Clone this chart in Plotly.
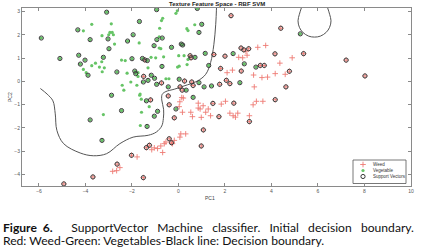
import plotly.graph_objects as go

# ---- data ----
veg_x = [-4.09, -3.73, -2.89, -2.95, -2.85, -3.0, -2.8, -3.29, -2.75, -1.69, -3.73, -3.57, -3.3, -3.4, -3.19,
         -4.09, -3.97, -3.28, -2.45, -2.29, -2.21, -2.05, -1.74, -1.79, -1.31, -2.42, -2.35, -1.65, -1.74,
         -0.11, -0.05, -0.68, -0.73, -0.81, 0.36, 0.41, 0.7, -0.83, -0.83, -0.76, -0.64, -1.18, -0.98, 0.01, 0.24,
         0.41, 0.03, -0.04, 0.37, -0.54, -0.41, -3.23, -1.67, -1.59, -1.64, -1.26, -1.6]
veg_y = [2.17, 2.45, 2.47, 2.1, 2.1, 2.0, 2.0, 1.96, 1.6, 1.65, 0.67, 0.78, 0.84, 0.61, 0.58,
         0.51, 0.37, 0.41, 0.91, 0.89, 0.35, -0.03, 0.21, -0.17, 0.58, -0.17, -0.38, -0.55, 0.37,
         2.92, 3.03, 2.71, 2.61, 2.28, 2.26, 2.18, 2.43, 1.91, 1.43, 1.4, 1.05, 1.03, 1.01, 1.1, 1.1,
         0.94, 0.65, 0.61, 0.72, 0.11, 0.11, -1.43, -0.6, -1.33, -1.9, -1.09, -0.77]

veg_sv_x = [-5.9, -5.1, -4.33, -3.8, -3.09, -3.03, -2.99, -2.19, -1.95, -1.68, -4.29, -4.02, -4.22, -3.23,
            -3.89, -2.65, -2.0, -1.88, -1.84, -1.51, -1.55, -1.34, -1.31, -2.88,
            -0.94, 0.81, 1.0, 0.88, -0.93, -0.7, -1.05, -0.3, 0.12, 0.18, 0.71, 1.15, 2.35, 1.3, -0.71,
            -1.17, -1.03, 0.03, -0.94, -0.44, 0.33, 0.88, 1.1, 1.42, 2.64, 2.83, 3.33, 5.24,
            -3.8, -2.45, -1.35, -1.38, -3.29, -0.9, -1.04, -0.11, 0.63]
veg_sv_y = [1.86, 0.98, 2.21, 1.79, 2.97, 1.82, 1.4, 1.73, 2.0, 2.57, 1.12, 0.91, 0.74, 1.03,
            0.26, 0.4, 0.97, 0.44, 0.33, -0.03, 0.98, 0.89, 0.04, -0.6,
            3.08, 3.13, 2.45, 2.1, 1.79, 1.86, 1.53, 1.46, 1.6, 1.56, 1.03, 1.2, 1.19, 0.68, 0.64,
            0.26, 0.13, 0.09, -0.13, -0.24, -0.38, -0.06, -0.24, -0.2, -0.06, 0.75, 0.61, 2.04,
            -1.66, -1.26, -1.94, -0.84, -2.54, -1.29, -1.5, -1.19, -0.69]

weed_x = [2.32, 2.09, 2.59, 2.76, 2.9, 2.95, 3.41, 3.75, 3.23, 3.59, 3.83, 4.16, 3.26, 4.89, 4.36, 4.59,
          -1.78, -2.83, -2.66, -2.52,
          0.06, 0.21, 0.14, 0.03, 0.17, 0.85, 1.06, 0.85, 0.93, 0.53, 0.6, 0.98, 1.17, 1.28, 1.38,
          1.84, 2.02, 2.21, 2.35, 2.45, 2.55, 3.05, 3.21, 3.35, 3.63,
          -0.18, 0.06, 0.1, 0.31, -0.26, -0.61, -0.54, -0.76, -0.9, -1.04, -0.68, -1.15]
weed_y = [0.48, 0.37, 1.03, 1.01, 1.29, 1.12, 1.46, 1.54, 0.27, 0.16, 0.18, 0.33, -0.24, 1.01, 0.78, 0.3,
          -3.25, -3.87, -3.84, -3.71,
          -0.88, -0.72, -0.7, -1.09, -1.33, -0.94, -1.05, -1.15, -1.19, -1.33, -1.52, -1.55, -1.33, -1.19, -1.48,
          -0.98, -0.86, -1.37, -1.48, -1.54, -1.37, -1.48, -1.01, -0.86, -0.86,
          -2.54, -2.4, -2.26, -2.26, -2.68, -2.68, -2.61, -2.78, -2.89, -2.86, -3.06, -2.94]

weed_sv_x = [-1.45, -1.5, 0.5, 0.54, 1.52, 2.0, -0.73, 0.07, 0.16, 0.57, 0.63, 1.77, 2.06, 2.21, 1.81, 2.7,
             3.52, 3.69, 2.69, 2.81, 3.02, 4.15, 2.26, 4.4, 5.38, 4.77, 7.21, 8.02, 4.62, 0.26,
             -2.02, -1.38, -2.64, -3.68, -4.93, -1.51, -1.2, -0.44, -0.4, -0.18, 1.48, 2.38, 1.74, 3.05,
             4.16, 1.07, 0.98, -0.4, -0.3, -1.25]
weed_sv_y = [0.92, 0.21, 1.1, 1.01, 1.15, 1.08, -0.07, -0.24, -0.38, -0.03, -0.18, -0.13, 0.04, -0.1, 0.55, 0.44,
             0.68, 0.68, 1.43, 1.35, 1.4, 1.18, 2.82, 2.28, 1.19, 0.43, 0.91, 0.23, -0.24, 0.01,
             -3.18, -2.85, -3.56, -4.11, -4.41, -4.14, -0.8, -0.63, -1.01, -1.57, -0.95, -0.94, -1.52, -1.73,
             -0.79, -2.09, -2.78, -2.47, -2.64, -2.75]

bnd_x = [-5.94, -5.65, -5.4, -5.3, -5.23, -4.94, -4.23, -3.66, -3.09, -2.52, -1.95, -1.3, -0.95,
         -0.72, -0.65, -0.64, -0.72, -0.7, -0.54, -0.18, 0.24, 0.81, 1.17, 1.38, 1.52, 1.6, 1.64]
bnd_y = [-0.31, -0.55, -0.84, -1.4, -2.11, -2.68, -3.08, -3.2, -3.11, -2.68, -2.4, -2.32, -2.18,
         -1.92, -1.6, -1.2, -0.8, -0.56, -0.44, -0.34, -0.2, 0.01, 0.3, 0.8, 1.57, 2.43, 3.3]
loop_x = [5.3, 5.2, 5.14, 5.2, 5.35, 5.6, 5.85, 6.1, 6.35, 6.5, 6.56, 6.5, 6.4]
loop_y = [3.2, 2.88, 2.6, 2.32, 2.1, 1.94, 1.9, 1.94, 2.1, 2.32, 2.6, 2.88, 3.2]

x_ticks = [-6, -4, -2, 0, 2, 4, 6, 8, 10]
y_ticks = [-4, -3, -2, -1, 0, 1, 2, 3]

legend_names = ["Weed", "Vegetable", "Support Vectors"]
title_text = "Texture Feature Space - RBF SVM"
caption_1 = "<b>Figure\u00a0\u00a06.</b>      SupportVector   Machine   classifier.   Initial   decision   boundary."
caption_2 = "Red: Weed-Green: Vegetables-Black line: Decision boundary."

WEED_C = "#ee7b74"
VEG_C = "#66c466"
SV_C = "#3a3a3a"
LINE_C = "#555555"
AX_C = "#8a8a8a"
SANS = "Liberation Sans"

# plot area in page pixels: x 22..411, y 8..186
def px_x(p):
    return (p - 22) / 389.0

def px_y(p):
    return (186 - p) / 178.0

# ---- figure ----
fig = go.Figure()
fig.add_trace(go.Scatter(x=bnd_x, y=bnd_y, mode="lines", line=dict(color=LINE_C, width=1, shape="spline"),
                         showlegend=False, hoverinfo="skip"))
fig.add_trace(go.Scatter(x=loop_x, y=loop_y, mode="lines", line=dict(color=LINE_C, width=1, shape="spline"),
                         showlegend=False, hoverinfo="skip"))
fig.add_trace(go.Scatter(x=weed_x + weed_sv_x, y=weed_y + weed_sv_y, mode="markers", name=legend_names[0],
                         marker=dict(symbol="cross-thin", size=4, line=dict(color=WEED_C, width=0.9)),
                         showlegend=False))
fig.add_trace(go.Scatter(x=veg_x + veg_sv_x, y=veg_y + veg_sv_y, mode="markers", name=legend_names[1],
                         marker=dict(symbol="circle", size=3.2, color=VEG_C), showlegend=False))
fig.add_trace(go.Scatter(x=weed_sv_x + veg_sv_x, y=weed_sv_y + veg_sv_y, mode="markers", name=legend_names[2],
                         marker=dict(symbol="circle-open", size=4.2, line=dict(width=1), color=SV_C),
                         showlegend=False))

# compact legend drawn on an overlay axis measured in page pixels
leg_rows = [164.5, 170.5, 176.5]
fig.add_trace(go.Scatter(x=[363], y=[leg_rows[0]], xaxis="x2", yaxis="y2", mode="markers", showlegend=False,
                         hoverinfo="skip", marker=dict(symbol="cross-thin", size=4, line=dict(color=WEED_C, width=0.9))))
fig.add_trace(go.Scatter(x=[363], y=[leg_rows[1]], xaxis="x2", yaxis="y2", mode="markers", showlegend=False,
                         hoverinfo="skip", marker=dict(symbol="circle", size=3.2, color=VEG_C)))
fig.add_trace(go.Scatter(x=[363], y=[leg_rows[2]], xaxis="x2", yaxis="y2", mode="markers", showlegend=False,
                         hoverinfo="skip", marker=dict(symbol="circle-open", size=4.2, line=dict(width=1), color=SV_C)))

axis_common = dict(showgrid=False, zeroline=False, showline=True, linecolor=AX_C, linewidth=1,
                   mirror="ticks", ticks="inside", ticklen=3, tickcolor=AX_C,
                   tickfont=dict(size=5, color="#555555", family=SANS))
fig.update_xaxes(range=[-6.73, 10], tickvals=x_ticks, **axis_common)
fig.update_yaxes(range=[-4.5, 3.15], tickvals=y_ticks, **axis_common)

annotations = [
    dict(text="<b>" + title_text + "</b>", x=0.5, y=1.0, xref="paper", yref="paper",
         xanchor="center", yanchor="bottom", showarrow=False, yshift=-1,
         font=dict(size=6, color="#222222", family=SANS)),
    dict(text="PC1", x=px_x(210), y=px_y(198), xref="paper", yref="paper", xanchor="center", yanchor="middle",
         showarrow=False, font=dict(size=5, color="#444444", family=SANS)),
    dict(text="PC2", x=px_x(10), y=px_y(97), xref="paper", yref="paper", xanchor="center", yanchor="middle",
         textangle=-90, showarrow=False, font=dict(size=5, color="#444444", family=SANS)),
    dict(text=caption_1, x=px_x(0.5), y=px_y(227.4), xref="paper", yref="paper", xanchor="left", yanchor="middle",
         height=13, showarrow=False, font=dict(size=12.1, color="#111111", family="Lato")),
    dict(text=caption_2, x=px_x(0.5), y=px_y(240.4), xref="paper", yref="paper", xanchor="left", yanchor="middle",
         height=13, showarrow=False, font=dict(size=12.1, color="#111111", family="Lato")),
]
for name, yy in zip(legend_names, leg_rows):
    annotations.append(dict(text=name, x=370.5, y=yy, xref="x2", yref="y2", xanchor="left", yanchor="middle",
                            showarrow=False, font=dict(size=4.5, color="#333333", family=SANS)))

fig.update_layout(
    width=422, height=249, autosize=False,
    margin=dict(l=22, r=11, t=8, b=63),
    paper_bgcolor="white", plot_bgcolor="white",
    font=dict(family=SANS, color="#333333"),
    showlegend=False,
    xaxis2=dict(overlaying="x", range=[22, 411], visible=False, fixedrange=True),
    yaxis2=dict(overlaying="y", range=[186, 8], visible=False, fixedrange=True),
    shapes=[dict(type="rect", xref="x2", yref="y2", x0=353, x1=406, y0=160, y1=183.5,
                 line=dict(color="#555555", width=0.8), fillcolor="white", layer="below")],
    annotations=annotations,
)

fig.write_html("out.html", config={"displayModeBar": False},
               post_script="document.body.style.margin='0';")
